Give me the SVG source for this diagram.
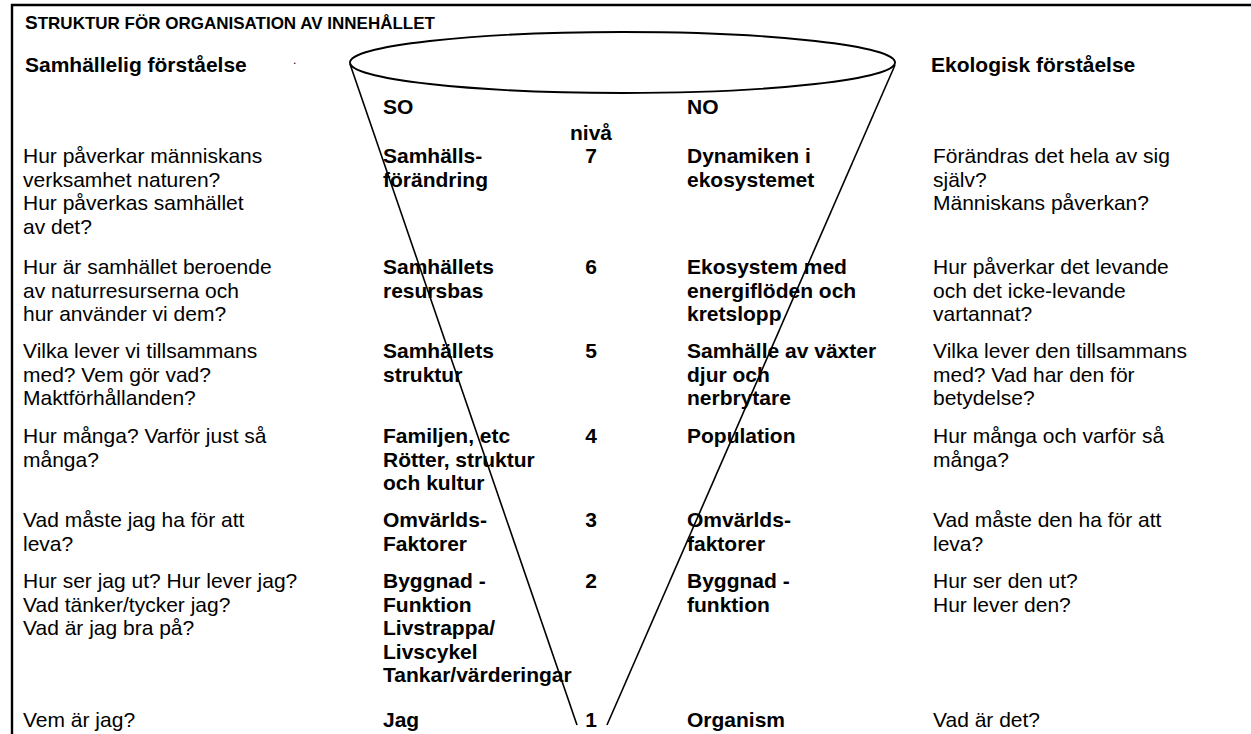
<svg xmlns="http://www.w3.org/2000/svg" width="1251" height="734" viewBox="0 0 1251 734">
<style>
text{font-family:"Liberation Sans",Arial,sans-serif;fill:#000}
.r{font-size:21px}
.b{font-size:21px;font-weight:bold}
.n{font-size:21px;font-weight:bold;text-anchor:middle}
.t{font-weight:bold}
.ln{fill:none;stroke:#000;stroke-width:1.6}
.el{fill:none;stroke:#000;stroke-width:1.9}
.fr{fill:none;stroke:#000;stroke-width:2.4}
</style>
<rect width="1251" height="734" fill="#fff"/>
<g id="frame"><path class="fr" d="M12,734 V5 H1251"/></g>
<g id="header">
<text class="t" x="25" y="29"><tspan font-size="19">S</tspan><tspan font-size="17">TRUKTUR FÖR ORGANISATION AV INNEHÅLLET</tspan></text>
<text class="b" x="25" y="72">Samhällelig förståelse</text>
<text x="293" y="64" font-size="12">.</text>
<text class="b" x="931" y="72">Ekologisk förståelse</text>
<text class="b" x="383" y="114">SO</text>
<text class="b" x="687" y="114">NO</text>
<text class="n" x="591" y="140">nivå</text>
</g>
<g id="connectors">
<ellipse class="el" cx="622.5" cy="62.5" rx="272.5" ry="30.5"/>
<line class="ln" x1="350" y1="64" x2="577" y2="725"/>
<line class="ln" x1="895" y1="65" x2="607" y2="725"/>
</g>
<g id="level7">
<text class="r" x="23" y="163"><tspan x="23">Hur påverkar människans</tspan><tspan x="23" dy="23.5">verksamhet naturen?</tspan><tspan x="23" dy="23.5">Hur påverkas samhället</tspan><tspan x="23" dy="23.5">av det?</tspan></text>
<text class="b" x="383" y="163"><tspan x="383">Samhälls-</tspan><tspan x="383" dy="23.5">förändring</tspan></text>
<text class="n" x="591" y="163">7</text>
<text class="b" x="687" y="163"><tspan x="687">Dynamiken i</tspan><tspan x="687" dy="23.5">ekosystemet</tspan></text>
<text class="r" x="933" y="163"><tspan x="933">Förändras det hela av sig</tspan><tspan x="933" dy="23.5">själv?</tspan><tspan x="933" dy="23.5">Människans påverkan?</tspan></text>
</g>
<g id="level6">
<text class="r" x="23" y="274"><tspan x="23">Hur är samhället beroende</tspan><tspan x="23" dy="23.5">av naturresurserna och</tspan><tspan x="23" dy="23.5">hur använder vi dem?</tspan></text>
<text class="b" x="383" y="274"><tspan x="383">Samhällets</tspan><tspan x="383" dy="23.5">resursbas</tspan></text>
<text class="n" x="591" y="274">6</text>
<text class="b" x="687" y="274"><tspan x="687">Ekosystem med</tspan><tspan x="687" dy="23.5">energiflöden och</tspan><tspan x="687" dy="23.5">kretslopp</tspan></text>
<text class="r" x="933" y="274"><tspan x="933">Hur påverkar det levande</tspan><tspan x="933" dy="23.5">och det icke-levande</tspan><tspan x="933" dy="23.5">vartannat?</tspan></text>
</g>
<g id="level5">
<text class="r" x="23" y="358"><tspan x="23">Vilka lever vi tillsammans</tspan><tspan x="23" dy="23.5">med? Vem gör vad?</tspan><tspan x="23" dy="23.5">Maktförhållanden?</tspan></text>
<text class="b" x="383" y="358"><tspan x="383">Samhällets</tspan><tspan x="383" dy="23.5">struktur</tspan></text>
<text class="n" x="591" y="358">5</text>
<text class="b" x="687" y="358"><tspan x="687">Samhälle av växter</tspan><tspan x="687" dy="23.5">djur och</tspan><tspan x="687" dy="23.5">nerbrytare</tspan></text>
<text class="r" x="933" y="358"><tspan x="933">Vilka lever den tillsammans</tspan><tspan x="933" dy="23.5">med? Vad har den för</tspan><tspan x="933" dy="23.5">betydelse?</tspan></text>
</g>
<g id="level4">
<text class="r" x="23" y="443"><tspan x="23">Hur många? Varför just så</tspan><tspan x="23" dy="23.5">många?</tspan></text>
<text class="b" x="383" y="443"><tspan x="383">Familjen, etc</tspan><tspan x="383" dy="23.5">Rötter, struktur</tspan><tspan x="383" dy="23.5">och kultur</tspan></text>
<text class="n" x="591" y="443">4</text>
<text class="b" x="687" y="443">Population</text>
<text class="r" x="933" y="443"><tspan x="933">Hur många och varför så</tspan><tspan x="933" dy="23.5">många?</tspan></text>
</g>
<g id="level3">
<text class="r" x="23" y="527"><tspan x="23">Vad måste jag ha för att</tspan><tspan x="23" dy="23.5">leva?</tspan></text>
<text class="b" x="383" y="527"><tspan x="383">Omvärlds-</tspan><tspan x="383" dy="23.5">Faktorer</tspan></text>
<text class="n" x="591" y="527">3</text>
<text class="b" x="687" y="527"><tspan x="687">Omvärlds-</tspan><tspan x="687" dy="23.5">faktorer</tspan></text>
<text class="r" x="933" y="527"><tspan x="933">Vad måste den ha för att</tspan><tspan x="933" dy="23.5">leva?</tspan></text>
</g>
<g id="level2">
<text class="r" x="23" y="588"><tspan x="23">Hur ser jag ut? Hur lever jag?</tspan><tspan x="23" dy="23.5">Vad tänker/tycker jag?</tspan><tspan x="23" dy="23.5">Vad är jag bra på?</tspan></text>
<text class="b" x="383" y="588"><tspan x="383">Byggnad -</tspan><tspan x="383" dy="23.5">Funktion</tspan><tspan x="383" dy="23.5">Livstrappa/</tspan><tspan x="383" dy="23.5">Livscykel</tspan><tspan x="383" dy="23.5">Tankar/värderingar</tspan></text>
<text class="n" x="591" y="588">2</text>
<text class="b" x="687" y="588"><tspan x="687">Byggnad -</tspan><tspan x="687" dy="23.5">funktion</tspan></text>
<text class="r" x="933" y="588"><tspan x="933">Hur ser den ut?</tspan><tspan x="933" dy="23.5">Hur lever den?</tspan></text>
</g>
<g id="level1">
<text class="r" x="23" y="727">Vem är jag?</text>
<text class="b" x="383" y="727">Jag</text>
<text class="n" x="591" y="727">1</text>
<text class="b" x="687" y="727">Organism</text>
<text class="r" x="933" y="727">Vad är det?</text>
</g>
</svg>
